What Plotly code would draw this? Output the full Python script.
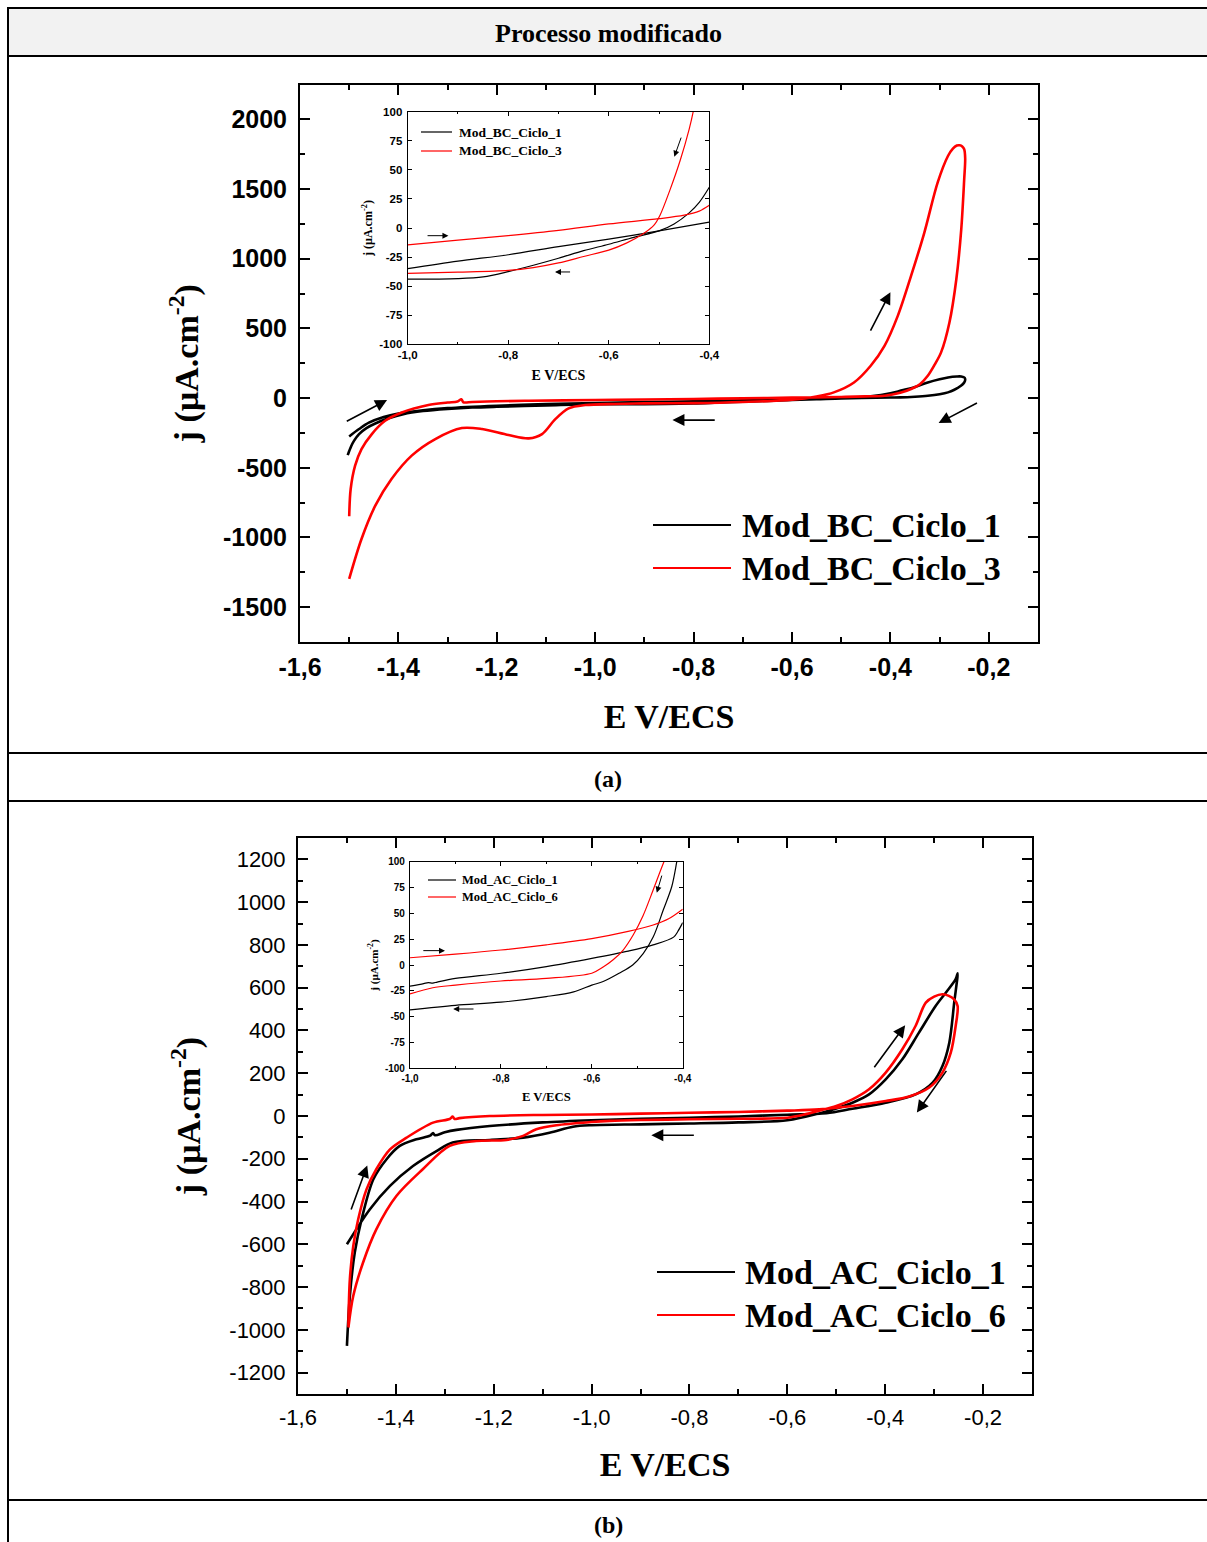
import plotly.graph_objects as go

W, H = 1207, 1542

# ---------------- (a) main: Mod_BC cycles ----------------
bc1_fwd_E = [-1.503, -1.500, -1.496, -1.490, -1.480, -1.465, -1.447, -1.420, -1.390, -1.350, -1.300, -1.250, -1.200, -1.100, -1.000, -0.900, -0.800, -0.750, -0.700, -0.600, -0.550, -0.500, -0.470, -0.440, -0.400, -0.380, -0.350, -0.324, -0.300, -0.283, -0.265, -0.256, -0.249]
bc1_fwd_j = [-409, -380, -345, -305, -258, -215, -182, -145, -115, -93, -78, -68, -62, -53, -44, -43, -38, -32, -26, -14, -8, -3, 4, 13, 35, 52, 80, 112, 135, 148, 155, 155, 146]
bc1_rev_E = [-0.248, -0.250, -0.256, -0.270, -0.283, -0.300, -0.324, -0.350, -0.380, -0.400, -0.500, -0.600, -0.700, -0.800, -0.900, -1.000, -1.100, -1.200, -1.300, -1.350, -1.400, -1.430, -1.460, -1.480, -1.500]
bc1_rev_j = [130, 112, 90, 60, 41, 28, 17, 10, 5, 4, -2, -9, -16, -23, -29, -35, -43, -55, -72, -87, -110, -135, -176, -222, -275]

bc3_fwd_E = [-1.500, -1.497, -1.488, -1.475, -1.454, -1.427, -1.393, -1.339, -1.300, -1.280, -1.272, -1.268, -1.250, -1.200, -1.135, -1.000, -0.900, -0.800, -0.700, -0.600, -0.500, -0.450, -0.412, -0.380, -0.358, -0.340, -0.324, -0.310, -0.297, -0.280, -0.266, -0.256, -0.250, -0.248]
bc3_fwd_j = [-848, -652, -485, -366, -258, -163, -103, -50, -32, -24, -8, -30, -28, -23, -19, -14, -10, -6, -2, 3.5, 8, 12, 17, 38, 65, 100, 160, 240, 328, 543, 853, 1211, 1570, 1720]
bc3_rev_E = [-0.250, -0.254, -0.259, -0.265, -0.273, -0.283, -0.304, -0.331, -0.358, -0.385, -0.412, -0.440, -0.474, -0.515, -0.550, -0.600, -0.700, -0.800, -0.900, -0.960, -1.020, -1.054, -1.081, -1.108, -1.135, -1.176, -1.230, -1.271, -1.325, -1.373, -1.414, -1.447, -1.475, -1.500]
bc3_rev_j = [1785, 1806, 1814, 1812, 1790, 1737, 1546, 1188, 877, 590, 375, 232, 112, 41, 12, -12, -28, -36, -38, -42, -50, -74, -151, -258, -289, -265, -222, -215, -294, -413, -581, -772, -1011, -1297]

# ---------------- (a) inset ----------------
ia_bc1_up_E = [-1.0, -0.9, -0.8, -0.7, -0.6, -0.5, -0.4]
ia_bc1_up_j = [-35, -28.5, -23, -16, -9.5, -2.5, 5]
ia_bc1_lo_E = [-1.0, -0.9, -0.85, -0.8, -0.75, -0.7, -0.65, -0.6, -0.55, -0.5, -0.47, -0.44, -0.42, -0.4]
ia_bc1_lo_j = [-44, -43.5, -42, -37.5, -32, -26, -19.5, -14, -8, -2.5, 3.5, 13, 22, 35]
ia_bc3_up_E = [-1.0, -0.9, -0.8, -0.7, -0.6, -0.5, -0.45, -0.42, -0.4]
ia_bc3_up_j = [-14.5, -10.5, -6.5, -2, 3.5, 8, 11, 14.5, 19.5]
ia_bc3_lo_E = [-1.0, -0.9, -0.8, -0.75, -0.7, -0.65, -0.6, -0.565, -0.53, -0.51, -0.498, -0.478, -0.458, -0.44, -0.432, -0.428]
ia_bc3_lo_j = [-39, -38, -36.5, -34, -30, -24.5, -19, -13, -4.5, 2.5, 11, 33, 58, 85, 100, 110]

# ---------------- (b) main: Mod_AC cycles ----------------
ac1_fwd_E = [-1.500, -1.494, -1.484, -1.470, -1.446, -1.419, -1.392, -1.358, -1.330, -1.324, -1.320, -1.300, -1.276, -1.208, -1.100, -1.000, -0.900, -0.800, -0.700, -0.600, -0.520, -0.467, -0.399, -0.338, -0.303, -0.283, -0.269, -0.259, -0.252]
ac1_fwd_j = [-1075, -841, -639, -483, -296, -202, -140, -109, -92, -80, -90, -76, -65, -47, -30, -20, -13, -8, -2, 6, 13, 34, 62, 101, 156, 234, 343, 530, 667]
ac1_rev_E = [-0.256, -0.275, -0.297, -0.331, -0.365, -0.399, -0.433, -0.467, -0.500, -0.535, -0.600, -0.700, -0.800, -0.900, -1.000, -1.038, -1.086, -1.140, -1.208, -1.284, -1.317, -1.365, -1.412, -1.453, -1.500]
ac1_rev_j = [640, 580, 514, 390, 265, 171, 101, 62, 35, 12, -20, -30, -35, -39, -43, -50, -78, -101, -112, -124, -164, -234, -327, -436, -600]

ac6_fwd_E = [-1.497, -1.494, -1.487, -1.477, -1.460, -1.440, -1.412, -1.378, -1.324, -1.290, -1.284, -1.280, -1.270, -1.208, -1.100, -1.000, -0.900, -0.800, -0.700, -0.600, -0.535, -0.467, -0.399, -0.351, -0.310, -0.283, -0.266, -0.256, -0.252]
ac6_fwd_j = [-981, -763, -608, -483, -343, -249, -156, -101, -31, -14, -3, -14, -10, 0, 5, 7, 11, 15, 19, 25, 31, 47, 70, 91, 133, 203, 296, 421, 514]
ac6_rev_E = [-0.259, -0.270, -0.283, -0.300, -0.317, -0.338, -0.365, -0.399, -0.433, -0.467, -0.500, -0.535, -0.560, -0.600, -0.700, -0.800, -0.900, -0.963, -1.000, -1.072, -1.113, -1.140, -1.174, -1.236, -1.290, -1.345, -1.399, -1.440, -1.467, -1.487, -1.497]
ac6_rev_j = [545, 562, 569, 558, 530, 421, 312, 203, 125, 78, 47, 25, 10, -8, -13, -15.5, -19, -23, -28, -43, -62, -93, -112, -117, -140, -249, -374, -530, -685, -841, -989]

# ---------------- (b) inset ----------------
ib_ac1_up_E = [-1.0, -0.97, -0.96, -0.95, -0.94, -0.9, -0.8, -0.7, -0.6, -0.52, -0.465, -0.42, -0.41, -0.4]
ib_ac1_up_j = [-20.5, -18, -17, -17.5, -16.5, -13, -8, -1.5, 6.5, 13.5, 19.5, 27, 33, 41]
ib_ac1_lo_E = [-1.0, -0.9, -0.8, -0.7, -0.64, -0.6, -0.575, -0.54, -0.51, -0.487, -0.465, -0.443, -0.424, -0.413, -0.408]
ib_ac1_lo_j = [-43.5, -39, -36, -30.6, -26, -19.5, -16, -8, 0, 11, 27, 53, 76, 100, 112]
ib_ac6_up_E = [-1.0, -0.9, -0.8, -0.7, -0.6, -0.52, -0.465, -0.43, -0.4]
ib_ac6_up_j = [7, 10.5, 14.5, 19.5, 25.5, 32.5, 38.7, 45, 54]
ib_ac6_lo_E = [-1.0, -0.95, -0.9, -0.8, -0.7, -0.6, -0.575, -0.553, -0.531, -0.509, -0.487, -0.465, -0.443, -0.435]
ib_ac6_lo_j = [-28, -22, -19.5, -15.5, -13, -8, -2, 5, 14.5, 29, 48, 72.6, 98, 106]

# ---------------- ticks ----------------
x_main_vals = [-1.6, -1.4, -1.2, -1.0, -0.8, -0.6, -0.4, -0.2]
x_main_text = ["-1,6", "-1,4", "-1,2", "-1,0", "-0,8", "-0,6", "-0,4", "-0,2"]
x_main_minor = [-1.5, -1.3, -1.1, -0.9, -0.7, -0.5, -0.3]
ya_vals = [-1500, -1000, -500, 0, 500, 1000, 1500, 2000]
ya_text = ["-1500", "-1000", "-500", "0", "500", "1000", "1500", "2000"]
ya_minor = [-1250, -750, -250, 250, 750, 1250, 1750]
yb_vals = [-1200, -1000, -800, -600, -400, -200, 0, 200, 400, 600, 800, 1000, 1200]
yb_text = ["-1200", "-1000", "-800", "-600", "-400", "-200", "0", "200", "400", "600", "800", "1000", "1200"]
yb_minor = [-1100, -900, -700, -500, -300, -100, 100, 300, 500, 700, 900, 1100]
x_ins_vals = [-1.0, -0.8, -0.6, -0.4]
x_ins_text = ["-1,0", "-0,8", "-0,6", "-0,4"]
x_ins_minor = [-0.9, -0.7, -0.5]
y_ins_vals = [-100, -75, -50, -25, 0, 25, 50, 75, 100]
y_ins_text = ["-100", "-75", "-50", "-25", "0", "25", "50", "75", "100"]

# arrows: (tail E, tail j, head E, head j)
arrows_a = [(-1.508, -172, -1.423, -14), (-0.754, -158, -0.843, -158), (-0.442, 473, -0.400, 760), (-0.221, -29, -0.302, -179)]
arrows_ia = [(-0.9635, -6.6, -0.919, -6.6), (-0.674, -37.8, -0.707, -37.8), (-0.455, 79, -0.4696, 61.3)]
arrows_b = [(-1.4925, -444, -1.4585, -231), (-0.788, -90, -0.878, -90), (-0.4245, 221, -0.3592, 424), (-0.2728, 218, -0.3353, 16)]
arrows_ib = [(-0.974, 13.9, -0.923, 13.9), (-0.857, -42.6, -0.905, -42.6), (-0.445, 88, -0.457, 70)]

SERIF = "Liberation Serif"
SANS = "Liberation Sans"
BLACK = "#000000"
RED = "#ff0000"

fig = go.Figure()

def add(E, j, color, width, xa, ya, name):
    fig.add_trace(go.Scatter(x=E, y=j, mode="lines", name=name, showlegend=False,
                             line=dict(color=color, width=width, shape="spline", smoothing=0.9),
                             xaxis=xa, yaxis=ya, hoverinfo="skip"))

add(bc1_fwd_E + bc1_rev_E, bc1_fwd_j + bc1_rev_j, BLACK, 2.6, "x", "y", "Mod_BC_Ciclo_1")
add(bc3_fwd_E + bc3_rev_E, bc3_fwd_j + bc3_rev_j, RED, 2.6, "x", "y", "Mod_BC_Ciclo_3")
add(ia_bc1_up_E, ia_bc1_up_j, BLACK, 1.2, "x2", "y2", "Mod_BC_Ciclo_1")
add(ia_bc1_lo_E, ia_bc1_lo_j, BLACK, 1.2, "x2", "y2", "Mod_BC_Ciclo_1")
add(ia_bc3_up_E, ia_bc3_up_j, RED, 1.2, "x2", "y2", "Mod_BC_Ciclo_3")
add(ia_bc3_lo_E, ia_bc3_lo_j, RED, 1.2, "x2", "y2", "Mod_BC_Ciclo_3")
add(ac1_fwd_E + ac1_rev_E, ac1_fwd_j + ac1_rev_j, BLACK, 2.6, "x3", "y3", "Mod_AC_Ciclo_1")
add(ac6_fwd_E + ac6_rev_E, ac6_fwd_j + ac6_rev_j, RED, 2.6, "x3", "y3", "Mod_AC_Ciclo_6")
add(ib_ac1_up_E, ib_ac1_up_j, BLACK, 1.2, "x4", "y4", "Mod_AC_Ciclo_1")
add(ib_ac1_lo_E, ib_ac1_lo_j, BLACK, 1.2, "x4", "y4", "Mod_AC_Ciclo_1")
add(ib_ac6_up_E, ib_ac6_up_j, RED, 1.2, "x4", "y4", "Mod_AC_Ciclo_6")
add(ib_ac6_lo_E, ib_ac6_lo_j, RED, 1.2, "x4", "y4", "Mod_AC_Ciclo_6")

def px(x):
    return x / W

def py(y):
    return 1 - y / H

def axis(domain, anchor, rng, vals, text, minor, lw, tlen, mlen, fam, fsize, weight, title, tsize, standoff, lstand):
    return dict(domain=domain, anchor=anchor, range=rng, showline=True, linewidth=lw, linecolor=BLACK,
                mirror="ticks", ticks="inside", ticklen=tlen, tickwidth=lw, tickcolor=BLACK,
                tickmode="array", tickvals=vals, ticktext=text, automargin=False,
                minor=dict(tickmode="array", tickvals=minor, ticks="inside", ticklen=mlen, tickwidth=lw, tickcolor=BLACK),
                tickfont=dict(family=fam, size=fsize, color=BLACK, weight=weight),
                ticklabelstandoff=lstand,
                showgrid=False, zeroline=False, fixedrange=True,
                title=dict(text=title, font=dict(family=SERIF, size=tsize, color=BLACK, weight="bold"), standoff=standoff))

JT = "j (µA.cm<sup>-2</sup>)"
ET = "E V/ECS"

layout = dict(
    width=W, height=H, margin=dict(l=0, r=0, t=0, b=0, pad=0), autosize=False,
    paper_bgcolor="white", plot_bgcolor="white",
    xaxis=axis([px(300), px(1038)], "y", [-1.6, -0.1], x_main_vals, x_main_text, x_main_minor, 2, 10, 5, SANS, 25, "bold", ET, 34, 24, 2),
    yaxis=axis([py(642), py(84.5)], "x", [-1750, 2250], ya_vals, ya_text, ya_minor, 2, 10, 5, SANS, 25, "bold", JT, 34, 14, 6),
    xaxis2=axis([px(407.7), px(709.3)], "y2", [-1.0, -0.4], x_ins_vals, x_ins_text, x_ins_minor, 1.2, 4, 2.5, SANS, 11.5, "bold", ET, 14, 9, 0),
    yaxis2=axis([py(344.3), py(111.7)], "x2", [-100, 100], y_ins_vals, y_ins_text, [], 1.2, 4, 2.5, SANS, 11.5, "bold", JT, 12, 4, 2),
    xaxis3=axis([px(298), px(1032)], "y3", [-1.6, -0.1], x_main_vals, x_main_text, x_main_minor, 2, 10, 5, SANS, 22, "normal", ET, 34, 23, 3),
    yaxis3=axis([py(1394), py(838)], "x3", [-1300, 1300], yb_vals, yb_text, yb_minor, 2, 10, 5, SANS, 22, "normal", JT, 34, 18, 6),
    xaxis4=axis([px(410), px(682.7)], "y4", [-1.0, -0.4], x_ins_vals, x_ins_text, x_ins_minor, 1.2, 4, 2.5, SANS, 10, "bold", ET, 12.7, 8, 1),
    yaxis4=axis([py(1068.3), py(861.7)], "x4", [-100, 100], y_ins_vals, y_ins_text, [], 1.2, 4, 2.5, SANS, 10, "bold", JT, 11, 4, 2),
)
fig.update_layout(**layout)

# ---------------- table frame ----------------
shapes = [
    dict(type="rect", xref="paper", yref="paper", x0=px(8), x1=px(1212), y0=py(56), y1=py(8),
         fillcolor="#f2f2f2", line=dict(color=BLACK, width=2), layer="below"),
]
for yy in [753, 801, 1500]:
    shapes.append(dict(type="line", xref="paper", yref="paper", x0=px(8), x1=px(1207), y0=py(yy), y1=py(yy),
                       line=dict(color=BLACK, width=2)))
shapes.append(dict(type="line", xref="paper", yref="paper", x0=px(8), x1=px(8), y0=py(8), y1=py(1542),
                   line=dict(color=BLACK, width=2)))

annotations = [
    dict(text="<b>Processo modificado</b>", x=px(608), y=py(33), xref="paper", yref="paper", showarrow=False,
         font=dict(family=SERIF, size=26, color=BLACK), xanchor="center", yanchor="middle"),
    dict(text="<b>(a)</b>", x=px(608), y=py(779), xref="paper", yref="paper", showarrow=False,
         font=dict(family=SERIF, size=24, color=BLACK), xanchor="center", yanchor="middle"),
    dict(text="<b>(b)</b>", x=px(608), y=py(1525), xref="paper", yref="paper", showarrow=False,
         font=dict(family=SERIF, size=24, color=BLACK), xanchor="center", yanchor="middle"),
]

# legends (drawn as line samples + text)
legends = [
    (653, 731, 740, [(525, BLACK, "Mod_BC_Ciclo_1"), (568, RED, "Mod_BC_Ciclo_3")], 34, 2.2),
    (421, 452, 457, [(132, BLACK, "Mod_BC_Ciclo_1"), (151, RED, "Mod_BC_Ciclo_3")], 13.5, 1.2),
    (657, 735, 743, [(1272, BLACK, "Mod_AC_Ciclo_1"), (1315, RED, "Mod_AC_Ciclo_6")], 34, 2.2),
    (428, 456, 460, [(880, BLACK, "Mod_AC_Ciclo_1"), (897, RED, "Mod_AC_Ciclo_6")], 12.5, 1.2),
]
for x0, x1, xt, items, fs, lw in legends:
    for yy, col, label in items:
        shapes.append(dict(type="line", xref="paper", yref="paper", x0=px(x0), x1=px(x1), y0=py(yy), y1=py(yy),
                           line=dict(color=col, width=lw)))
        annotations.append(dict(text="<b>" + label + "</b>", x=px(xt), y=py(yy), xref="paper", yref="paper",
                                showarrow=False, xanchor="left", yanchor="middle",
                                font=dict(family=SERIF, size=fs, color=BLACK)))

def add_arrows(lst, xa, ya, w, size):
    for tx, ty, hx, hy in lst:
        annotations.append(dict(x=hx, y=hy, ax=tx, ay=ty, xref=xa, yref=ya, axref=xa, ayref=ya,
                                text="", showarrow=True, arrowhead=2, arrowsize=size, arrowwidth=w,
                                arrowcolor=BLACK))

add_arrows(arrows_a, "x", "y", 1.6, 1.5)
add_arrows(arrows_ia, "x2", "y2", 1.0, 1.2)
add_arrows(arrows_b, "x3", "y3", 1.6, 1.5)
add_arrows(arrows_ib, "x4", "y4", 1.0, 1.2)

fig.update_layout(shapes=shapes, annotations=annotations)
fig.write_html("out.html", config={"displayModeBar": False},
               post_script="document.body.style.margin='0px';document.body.style.overflow='hidden';")
